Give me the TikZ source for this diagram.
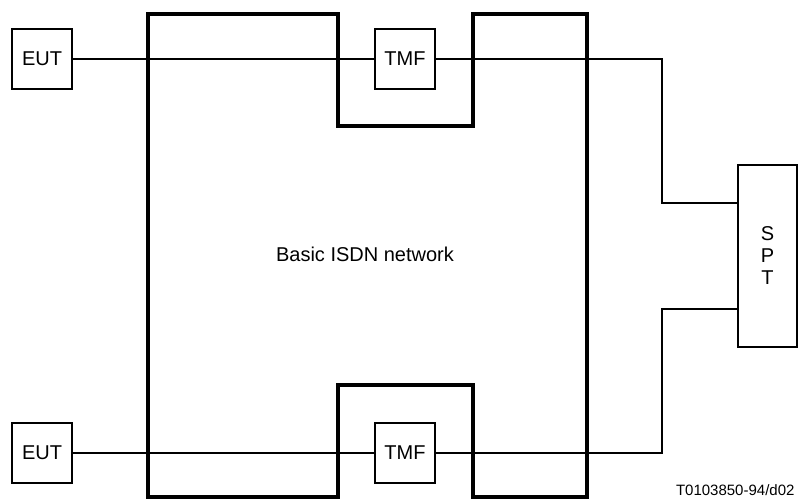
\documentclass[tikz,border=0pt]{standalone}
\usepackage{fontspec}
\setmainfont{Liberation Sans}
\tikzset{
  unitbox/.style={draw,line width=2pt,minimum width=60pt,minimum height=60pt,inner sep=0pt,font=\fontsize{20}{22}\selectfont},
  wire/.style={line width=2pt},
  netline/.style={line width=4pt,line join=miter}
}
\begin{document}
\begin{tikzpicture}[x=1pt,y=-1pt]
    \useasboundingbox (0,0) rectangle (798,500);
    % network outline
    \draw[netline] (148,14)--(338,14)--(338,126)--(473,126)--(473,14)--(587,14)--(587,497)--(473,497)--(473,385)--(338,385)--(338,497)--(148,497)--cycle;
    \node[font=\fontsize{20}{22}\selectfont] (net) at (365,254) {Basic ISDN network};
    \node[unitbox] (eutA) at (42,59) {EUT};
    \node[unitbox] (eutB) at (42,453) {EUT};
    \node[unitbox] (tmfA) at (405,59) {TMF};
    \node[unitbox] (tmfB) at (405,453) {TMF};
    \node[unitbox,minimum width=59pt,minimum height=182pt,align=center] (spt) at (767.5,256) {S\\P\\T};
    \coordinate (bendA) at (662,59);
    \coordinate (bendB) at (662,453);
    \coordinate (sptA) at (738,203);
    \coordinate (sptB) at (738,309);
    \draw[wire] (eutA)--(tmfA);
    \draw[wire] (eutB)--(tmfB);
    \draw[wire] (tmfA.east)--(bendA)|-(sptA);
    \draw[wire] (tmfB.east)--(bendB)|-(sptB);
    \node[font=\fontsize{15}{17}\selectfont,anchor=east] (code) at (798,490) {T0103850-94/d02};
\end{tikzpicture}
\end{document}
